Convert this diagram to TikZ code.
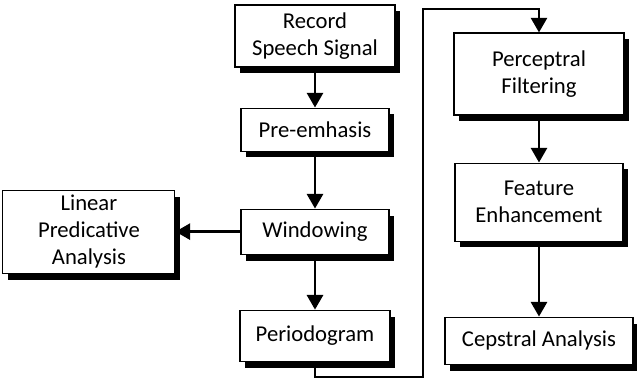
\documentclass[tikz,border=0pt]{standalone}
\usepackage{fontspec}
\setmainfont{Carlito}
\usetikzlibrary{positioning,shadows,arrows.meta}
\tikzset{
        % Processing stages
        stage/.style={align=center, inner sep=2pt, draw=black, line width=0.8pt, fill=white,
            font=\fontsize{17}{20.5}\selectfont,
            drop shadow={shadow xshift=3.8pt, shadow yshift=-4.8pt, fill=black, opacity=1}},
        % Connectors between stages
        flow/.style={line width=2.1pt, -{Triangle[width=12pt,length=11pt]}}
}

\begin{document}
\begin{tikzpicture}[x=0.75pt, y=-0.75pt]
            \useasboundingbox (0,0) rectangle (637,385);
            % Left column
            \node[stage, minimum width=120pt, minimum height=46.5pt] (record) at (315,36) {Record\\Speech Signal};
            \node[stage, minimum width=111pt, minimum height=32.25pt, below=30pt of record] (preemph) {Pre-emhasis};
            \node[stage, minimum width=111pt, minimum height=33.75pt, below=42.75pt of preemph] (window) {Windowing};
            \node[stage, minimum width=112.5pt, minimum height=38.25pt, below=41.25pt of window] (periodo) {Periodogram};
            \node[stage, minimum width=129pt, minimum height=62.25pt, left=48.75pt of window] (lpa) {Linear\\Predicative\\Analysis};
            % Right column
            \node[stage, minimum width=127.5pt, minimum height=61.5pt] (percept) at (539,74) {Perceptral\\Filtering};
            \node[stage, minimum width=126pt, minimum height=58.5pt, below=35.25pt of percept] (feature) {Feature\\Enhancement};
            \node[stage, minimum width=141pt, minimum height=35.25pt, below=56.25pt of feature] (cepstral) {Cepstral Analysis};
            % Turning points of the long link
            \coordinate (lowturn) at (423,377);
            \coordinate (highturn) at (423,9);

            \draw[flow] (record) -- (preemph);
            \draw[flow] (preemph) -- (window);
            \draw[flow] (window) -- (lpa);
            \draw[flow] (window) -- (periodo);
            \draw[flow] (periodo.south) |- (lowturn) -- (highturn) -| (percept.north);
            \draw[flow] (percept) -- (feature);
            \draw[flow] (feature) -- (cepstral);
\end{tikzpicture}
\end{document}
